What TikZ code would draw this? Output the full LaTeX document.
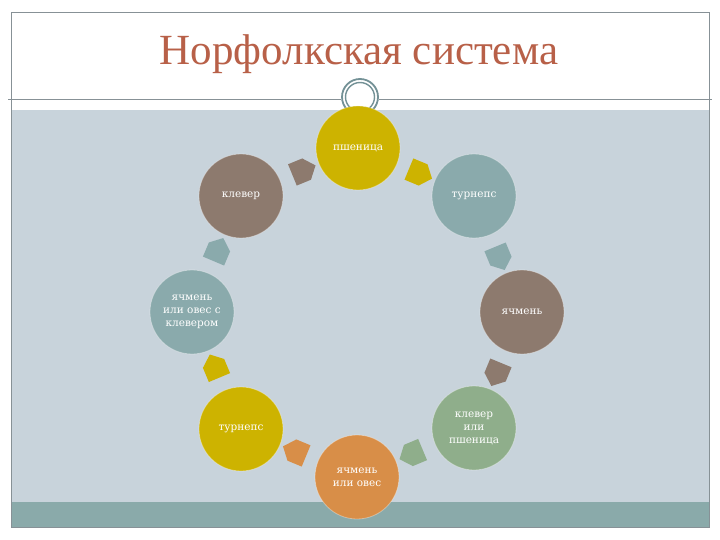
\documentclass[tikz,border=0pt]{standalone}
\usepackage{fontspec}
\setmainfont{Liberation Serif}
\newfontfamily\circfont{DejaVu Serif}
\usetikzlibrary{shapes.arrows}
\definecolor{cyel}{RGB}{205,179,0}
\definecolor{cbrown}{RGB}{141,122,110}
\definecolor{cteal}{RGB}{138,170,172}
\definecolor{cgreen}{RGB}{143,174,139}
\definecolor{corange}{RGB}{216,142,72}
\definecolor{bggray}{RGB}{200,211,219}
\definecolor{bandteal}{RGB}{138,170,170}
\definecolor{framec}{RGB}{135,145,150}
\definecolor{ringc}{RGB}{115,145,150}
\definecolor{titlec}{RGB}{184,96,72}
\begin{document}
\begin{tikzpicture}[x=1pt,y=-1pt,
  crop/.style={circle, minimum size=84pt, inner sep=0pt, draw=white, draw opacity=0.35, line width=0.8pt,
    text=white, align=center, font=\circfont\fontsize{10.5}{13}\selectfont},
  arr/.style={single arrow, single arrow head extend=0pt, single arrow tip angle=100,
    minimum height=25pt, minimum width=23pt, inner sep=0pt, sloped, allow upside down},
  frameline/.style={draw=framec, line width=0.8pt}]
\useasboundingbox (0,0) rectangle (720,540);
% frame and bands
\fill[white] (0,0) rectangle (720,540);
\fill[bggray] (11,110) rectangle (709,502);
\fill[bandteal] (11,502) rectangle (709,527);
\draw[frameline] (11,12) rectangle (709,527);
\draw[frameline, line width=1pt] (8,100) -- (341,100);
\draw[frameline, line width=1pt] (379,100) -- (712,100);
% ring ornament
\draw[ringc, line width=1.8pt, fill=white] (360,97) circle (18);
\draw[ringc, line width=1.4pt] (360,97) circle (14.5);
% title
\node[anchor=base, text=titlec, font=\fontsize{43}{47}\selectfont] (title) at (359,65) {Норфолкская система};
% crops
\node[crop, fill=cyel]    (psh)  at (358,148) {пшеница};
\node[crop, fill=cteal]   (tur1) at (474,196) {турнепс};
\node[crop, fill=cbrown]  (yach) at (522,312) {ячмень};
\node[crop, fill=cgreen]  (klp)  at (474,428) {клевер\\или\\пшеница};
\node[crop, fill=corange] (yo)   at (357,477) {ячмень\\или овес};
\node[crop, fill=cyel]    (tur2) at (241,429) {турнепс};
\node[crop, fill=cteal]   (yok)  at (192,312) {ячмень\\или овес с\\клевером};
\node[crop, fill=cbrown]  (kl)   at (241,196) {клевер};
% arrows
\path (psh)  -- node[arr, fill=cyel]    (a1) {} (tur1);
\path (tur1) -- node[arr, fill=cteal]   (a2) {} (yach);
\path (yach) -- node[arr, fill=cbrown]  (a3) {} (klp);
\path (klp)  -- node[arr, fill=cgreen]  (a4) {} (yo);
\path (yo)   -- node[arr, fill=corange] (a5) {} (tur2);
\path (tur2) -- node[arr, fill=cyel]    (a6) {} (yok);
\path (yok)  -- node[arr, fill=cteal]   (a7) {} (kl);
\path (kl)   -- node[arr, fill=cbrown]  (a8) {} (psh);
\end{tikzpicture}
\end{document}
